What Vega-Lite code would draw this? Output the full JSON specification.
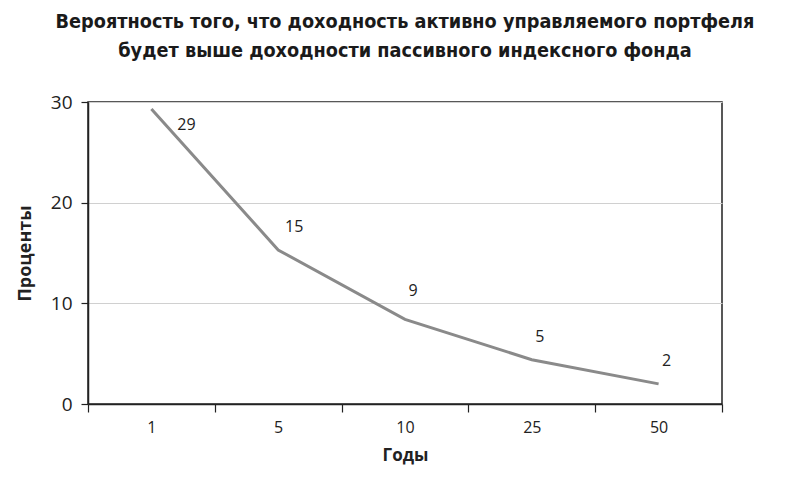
{
  "$schema": "https://vega.github.io/schema/vega-lite/v6.json",
  "autosize": "none",
  "width": 634,
  "height": 302,
  "padding": {"left": 88, "top": 102, "right": 69, "bottom": 86},
  "background": "white",
  "title": {
    "text": ["Вероятность того, что доходность активно управляемого портфеля", "будет выше доходности пассивного индексного фонда\u00a0\u00a0\u00a0\u00a0\u00a0\u00a0\u00a0\u00a0\u00a0\u00a0\u00a0\u00a0"],
    "font": "DejaVu Sans Condensed",
    "fontSize": 19.7,
    "fontWeight": "bold",
    "color": "#1a1a1a",
    "anchor": "middle",
    "lineHeight": 29,
    "offset": 32
  },
  "config": {
    "view": {"stroke": "#222", "strokeWidth": 1.5},
    "axis": {
      "labelFont": "Open Sans",
      "titleFont": "Open Sans",
      "labelColor": "#222",
      "titleColor": "#222",
      "domainColor": "#222",
      "tickColor": "#222",
      "domainWidth": 1.5,
      "tickWidth": 1.2
    }
  },
  "data": {
    "values": [
      {"years": "1", "pct": 29.3, "label": "29"},
      {"years": "5", "pct": 15.3, "label": "15"},
      {"years": "10", "pct": 8.4, "label": "9"},
      {"years": "25", "pct": 4.4, "label": "5"},
      {"years": "50", "pct": 2.0, "label": "2"}
    ]
  },
  "encoding": {
    "x": {
      "field": "years",
      "type": "ordinal",
      "sort": null,
      "scale": {"type": "band", "paddingInner": 0, "paddingOuter": 0},
      "axis": {
        "title": "Годы",
        "titleFontSize": 17,
        "titleFontWeight": "bold",
        "titlePadding": 12,
        "labelAngle": 0,
        "labelFontSize": 16,
        "labelPadding": 7,
        "tickBand": "extent",
        "tickSize": 8,
        "grid": false
      }
    },
    "y": {
      "field": "pct",
      "type": "quantitative",
      "scale": {"domain": [0, 30]},
      "axis": {
        "title": "Проценты",
        "titleFontSize": 18,
        "titleFontWeight": "bold",
        "titlePadding": 16,
        "values": [0, 10, 20, 30],
        "labelFontSize": 19,
        "labelPadding": 9,
        "tickSize": 7,
        "grid": true,
        "gridColor": "#d0d0d0",
        "gridWidth": 1.2
      }
    }
  },
  "layer": [
    {
      "mark": {"type": "line", "color": "#8a8a8a", "strokeWidth": 3}
    },
    {
      "mark": {
        "type": "text",
        "font": "Open Sans",
        "fontSize": 16,
        "color": "#222",
        "align": "center",
        "baseline": "middle",
        "dx": {"expr": "datum.years == '1' ? 35 : (datum.years == '5' ? 16 : 8)"},
        "dy": {"expr": "datum.years == '1' ? 16 : (datum.years == '10' ? -28 : -23)"}
      },
      "encoding": {"text": {"field": "label"}}
    }
  ]
}
